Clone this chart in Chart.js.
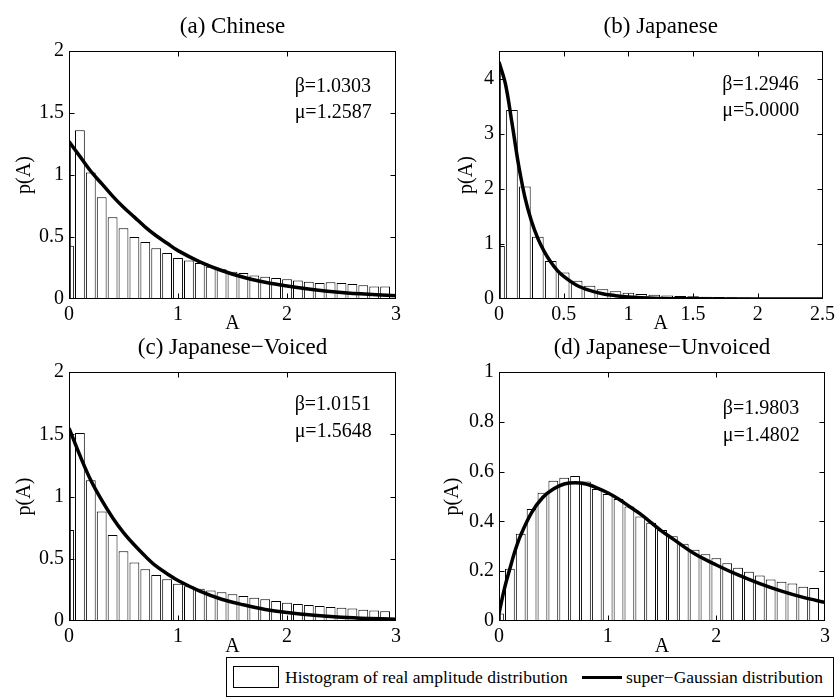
<!DOCTYPE html>
<html>
<head>
<meta charset="utf-8">
<script src="https://cdn.jsdelivr.net/npm/chart.js@4.4.1/dist/chart.umd.min.js"></script>
<style>
  body { margin: 0; background: #fff; }
  #wrap { position: relative; width: 839px; height: 700px; overflow: hidden; background: #fff;
          font-family: "Liberation Serif", "Times New Roman", serif; }
  #wrap canvas { position: absolute; }
  #legend { position: absolute; left: 226px; top: 657px; width: 606px; height: 38px; border: 1px solid #000;
            background: #fff; display: flex; align-items: center; font-size: 17.5px; color: #000; z-index: 5;
            white-space: nowrap; }
  #legend span { flex: none; }
  #legend .box { display: inline-block; width: 44px; height: 20px; border: 1px solid #000; margin: 0 6px 0 6px; }
  #legend .line { display: inline-block; width: 40px; height: 3px; background: #000; margin: 0 4px 0 14px; }
</style>
</head>
<body>
<div id="wrap">
  <canvas id="cA" width="420" height="340" style="left:0;top:0"></canvas>
  <canvas id="cB" width="419" height="340" style="left:420px;top:0"></canvas>
  <canvas id="cC" width="420" height="333" style="left:0;top:332px"></canvas>
  <canvas id="cD" width="419" height="333" style="left:420px;top:332px"></canvas>
  <div id="legend">
    <span class="box"></span><span>Histogram of real amplitude distribution</span>
    <span class="line"></span><span>super−Gaussian distribution</span>
  </div>
</div>
<script>
// bin centres of the histograms
const bins30 = [0, 0.1, 0.2, 0.3, 0.4, 0.5, 0.6, 0.7, 0.8, 0.9, 1.0, 1.1, 1.2, 1.3, 1.4,
                1.5, 1.6, 1.7, 1.8, 1.9, 2.0, 2.1, 2.2, 2.3, 2.4, 2.5, 2.6, 2.7, 2.8, 2.9];
const bins25 = [0, 0.1, 0.2, 0.3, 0.4, 0.5, 0.6, 0.7, 0.8, 0.9, 1.0, 1.1, 1.2, 1.3, 1.4,
                1.5, 1.6, 1.7, 1.8, 1.9, 2.0, 2.1, 2.2, 2.3, 2.4];

// histogram heights
const histA = [0.43, 1.36, 1.02, 0.82, 0.66, 0.57, 0.50, 0.46, 0.41, 0.37, 0.33, 0.31, 0.29, 0.26, 0.24,
               0.22, 0.21, 0.19, 0.18, 0.17, 0.16, 0.15, 0.14, 0.13, 0.135, 0.13, 0.12, 0.11, 0.10, 0.10];
const histB = [0.96, 3.43, 2.04, 1.13, 0.69, 0.48, 0.33, 0.24, 0.175, 0.14, 0.115, 0.09, 0.075, 0.065, 0.055,
               0.048, 0.04, 0.035, 0.03, 0.025, 0.02, 0.016, 0.013, 0.01, 0.008];
const histC = [0.73, 1.51, 1.13, 0.88, 0.69, 0.56, 0.47, 0.415, 0.37, 0.335, 0.30, 0.28, 0.26, 0.245, 0.23,
               0.215, 0.20, 0.187, 0.174, 0.16, 0.147, 0.137, 0.128, 0.12, 0.112, 0.107, 0.10, 0.09, 0.085, 0.078];
const histD = [0.03, 0.21, 0.35, 0.45, 0.515, 0.563, 0.575, 0.582, 0.56, 0.53, 0.51, 0.49, 0.46, 0.42, 0.395,
               0.365, 0.34, 0.31, 0.286, 0.268, 0.252, 0.232, 0.214, 0.198, 0.183, 0.167, 0.158, 0.151, 0.138, 0.133];

// super-Gaussian curves
const curveXAC = [0, 0.1, 0.2, 0.3, 0.4, 0.5, 0.6, 0.7, 0.8, 0.9, 1.0, 1.2, 1.4, 1.6, 1.8, 2.0, 2.25, 2.5, 2.75, 3.0];
const curveA = [1.27, 1.15, 1.03, 0.93, 0.83, 0.74, 0.66, 0.58, 0.51, 0.45, 0.39, 0.30, 0.23, 0.175, 0.135,
                0.105, 0.075, 0.053, 0.038, 0.027];
const curveC = [1.55, 1.33, 1.13, 0.97, 0.83, 0.71, 0.61, 0.52, 0.44, 0.38, 0.325, 0.24, 0.175, 0.13, 0.093,
                0.068, 0.046, 0.031, 0.021, 0.014];
const curveXB = [0, 0.05, 0.1, 0.15, 0.2, 0.25, 0.3, 0.35, 0.4, 0.45, 0.5, 0.6, 0.7, 0.8, 0.9, 1.0, 1.2, 1.4, 1.7, 2.0, 2.5];
const curveB = [4.30, 3.90, 3.20, 2.45, 1.85, 1.42, 1.10, 0.86, 0.67, 0.52, 0.41, 0.25, 0.155, 0.095, 0.06,
                0.037, 0.014, 0.005, 0.001, 0, 0];
const curveXD = [0, 0.05, 0.1, 0.15, 0.2, 0.3, 0.4, 0.5, 0.6, 0.7, 0.8, 0.9, 1.0, 1.1, 1.2, 1.3, 1.4, 1.5, 1.6,
                 1.8, 2.0, 2.2, 2.4, 2.6, 2.8, 3.0];
const curveD = [0.03, 0.13, 0.21, 0.285, 0.345, 0.435, 0.495, 0.53, 0.55, 0.555, 0.55, 0.535, 0.515, 0.49, 0.46,
                0.43, 0.395, 0.36, 0.33, 0.27, 0.225, 0.185, 0.15, 0.12, 0.095, 0.075];

const titles = ['(a) Chinese', '(b) Japanese', '(c) Japanese−Voiced', '(d) Japanese−Unvoiced'];
const notesA = ['β=1.0303', 'μ=1.2587'];
const notesB = ['β=1.2946', 'μ=5.0000'];
const notesC = ['β=1.0151', 'μ=1.5648'];
const notesD = ['β=1.9803', 'μ=1.4802'];

const FONT = '"Liberation Serif", "Times New Roman", serif';

// matlab style box with inward ticks
const boxPlugin = {
  id: 'box',
  afterDraw(chart) {
    const { ctx, chartArea: a, scales: { x, y } } = chart;
    const l = Math.round(a.left) + 0.5, r = Math.round(a.right) - 0.5;
    const t = Math.round(a.top) + 0.5, b = Math.round(a.bottom) - 0.5;
    ctx.save();
    ctx.strokeStyle = '#000';
    ctx.lineWidth = 1;
    ctx.strokeRect(l, t, r - l, b - t);
    ctx.beginPath();
    x.ticks.forEach(tk => {
      const px = Math.round(x.getPixelForValue(tk.value)) + 0.5;
      if (px <= l + 1 || px >= r - 1) return;
      ctx.moveTo(px, b); ctx.lineTo(px, b - 5);
      ctx.moveTo(px, t); ctx.lineTo(px, t + 5);
    });
    y.ticks.forEach(tk => {
      const py = Math.round(y.getPixelForValue(tk.value)) + 0.5;
      if (py <= t + 1 || py >= b - 1) return;
      ctx.moveTo(l, py); ctx.lineTo(l + 5, py);
      ctx.moveTo(r, py); ctx.lineTo(r - 5, py);
    });
    ctx.stroke();
    ctx.restore();
  }
};

// plain numbers like matlab: 0, 0.5, 1, 1.5
const plainTick = v => String(Number(v.toFixed(3)));

function panel(id, p) {
  const bars = p.bins.map((v, i) => ({ x: v, y: p.hist[i] }));
  const curve = p.cx.map((v, i) => ({ x: v, y: p.cy[i] }));
  const edge = [{ x: 0, y: 0 }, { x: 0, y: p.cy[0] }];

  const notes = {
    id: 'notes',
    afterDatasetsDraw(chart) {
      const { ctx, scales: { x, y } } = chart;
      ctx.save();
      ctx.fillStyle = '#000';
      ctx.font = '20px ' + FONT;
      ctx.textAlign = 'left';
      ctx.textBaseline = 'middle';
      p.notes.forEach((txt, i) => {
        ctx.fillText(txt, x.getPixelForValue(p.noteX), y.getPixelForValue(p.noteY[i]));
      });
      ctx.restore();
    }
  };

  const tickFont = { family: FONT, size: 20 };

  return new Chart(document.getElementById(id), {
    type: 'bar',
    data: {
      datasets: [
        { type: 'line', data: curve, borderColor: '#000', borderWidth: 3.5, pointRadius: 0,
          tension: 0.35, clip: 0, order: 0 },
        { type: 'line', data: edge, borderColor: '#000', borderWidth: 3.5, pointRadius: 0,
          tension: 0, clip: 0, order: 0 },
        { type: 'bar', data: bars, backgroundColor: '#fff', borderColor: '#000', borderWidth: 1,
          barPercentage: 0.9, categoryPercentage: 1, clip: 0, order: 1 }
      ]
    },
    options: {
      responsive: false,
      animation: false,
      events: [],
      layout: { padding: { left: 0, right: p.padRight, top: 0, bottom: 0 } },
      plugins: { legend: { display: false }, tooltip: { enabled: false } },
      scales: {
        x: {
          type: 'linear', position: 'bottom', min: 0, max: p.xMax, offset: false,
          grid: { display: false, drawTicks: false }, border: { display: false },
          ticks: { stepSize: p.xStep, padding: 4, color: '#000', font: tickFont, maxRotation: 0,
                   autoSkip: false, callback: plainTick },
          title: { display: true, text: 'A', color: '#000', font: tickFont, padding: { top: 0, bottom: p.aPad } },
          afterFit: s => { s.height = p.xH; }
        },
        top: {
          type: 'linear', position: 'top', min: 0, max: p.xMax,
          grid: { display: false, drawTicks: false }, border: { display: false },
          ticks: { display: false },
          title: { display: true, text: p.title, color: '#000', font: { family: FONT, size: 23 },
                   padding: { top: p.titlePad, bottom: 0 } },
          afterFit: s => { s.height = p.topH; }
        },
        y: {
          type: 'linear', min: 0, max: p.yMax,
          grid: { display: false, drawTicks: false }, border: { display: false },
          ticks: { stepSize: p.yStep, padding: 5, color: '#000', font: tickFont, autoSkip: false,
                   includeBounds: false, callback: plainTick },
          title: { display: true, text: 'p(A)', color: '#000', font: tickFont, padding: { top: p.pPad, bottom: 0 } },
          afterFit: s => { s.width = p.yW; }
        }
      }
    },
    plugins: [boxPlugin, notes]
  });
}

panel('cA', { bins: bins30, hist: histA, cx: curveXAC, cy: curveA, title: titles[0], notes: notesA,
  noteX: 2.07, noteY: [1.71, 1.50], xMax: 3, xStep: 1, yMax: 2, yStep: 0.5,
  yW: 69, padRight: 24, xH: 41, topH: 51, titlePad: 13, aPad: 4, pPad: 13 });
panel('cB', { bins: bins25, hist: histB, cx: curveXB, cy: curveB, title: titles[1], notes: notesB,
  noteX: 1.725, noteY: [3.88, 3.41], xMax: 2.5, xStep: 0.5, yMax: 4.5, yStep: 1,
  yW: 79, padRight: 14, xH: 41, topH: 51, titlePad: 13, aPad: 4, pPad: 35 });
panel('cC', { bins: bins30, hist: histC, cx: curveXAC, cy: curveC, title: titles[2], notes: notesC,
  noteX: 2.07, noteY: [1.74, 1.52], xMax: 3, xStep: 1, yMax: 2, yStep: 0.5,
  yW: 69, padRight: 24, xH: 44, topH: 40, titlePad: 2, aPad: 6, pPad: 13 });
panel('cD', { bins: bins30, hist: histD, cx: curveXD, cy: curveD, title: titles[3], notes: notesD,
  noteX: 2.06, noteY: [0.851, 0.743], xMax: 3, xStep: 1, yMax: 1, yStep: 0.2,
  yW: 79, padRight: 14, xH: 44, topH: 40, titlePad: 2, aPad: 6, pPad: 21 });
</script>
</body>
</html>
